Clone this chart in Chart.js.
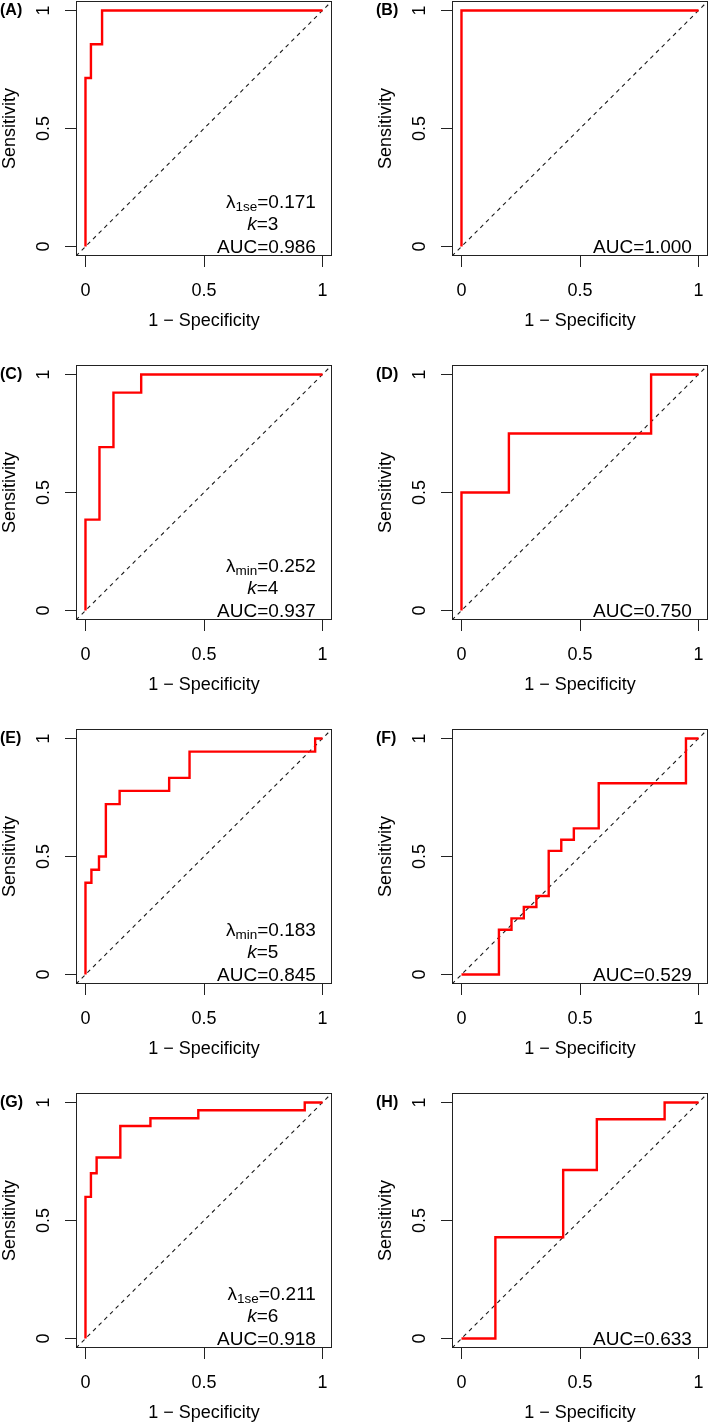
<!DOCTYPE html>
<html>
<head>
<meta charset="utf-8">
<script src="https://cdn.jsdelivr.net/npm/chart.js@4.4.1/dist/chart.umd.min.js"></script>
<style>
  html, body { margin: 0; padding: 0; background: #fff; overflow: hidden; }
  body { width: 709px; height: 1423px; position: relative; }
  canvas { position: absolute; }
</style>
</head>
<body>
<script>
// ---------------- data ----------------
const panelLabels = ['(A)', '(B)', '(C)', '(D)', '(E)', '(F)', '(G)', '(H)'];

const fprA = [0, 0, 0.023, 0.023, 0.07, 0.07, 1];
const tprA = [0, 0.714, 0.714, 0.857, 0.857, 1, 1];

const fprB = [0, 0, 1];
const tprB = [0, 1, 1];

const fprC = [0, 0, 0.059, 0.059, 0.118, 0.118, 0.235, 0.235, 1];
const tprC = [0, 0.385, 0.385, 0.692, 0.692, 0.923, 0.923, 1, 1];

const fprD = [0, 0, 0.2, 0.2, 0.8, 0.8, 1];
const tprD = [0, 0.5, 0.5, 0.75, 0.75, 1, 1];

const fprE = [0, 0, 0.025, 0.025, 0.057, 0.057, 0.086, 0.086, 0.144, 0.144, 0.353, 0.353, 0.439, 0.439, 0.969, 0.969, 1];
const tprE = [0, 0.389, 0.389, 0.444, 0.444, 0.5, 0.5, 0.722, 0.722, 0.778, 0.778, 0.833, 0.833, 0.944, 0.944, 1, 1];

const fprF = [0, 0.158, 0.158, 0.211, 0.211, 0.263, 0.263, 0.316, 0.316, 0.368, 0.368, 0.421, 0.421, 0.474, 0.474, 0.579, 0.579, 0.947, 0.947, 1];
const tprF = [0, 0, 0.19, 0.19, 0.238, 0.238, 0.286, 0.286, 0.333, 0.333, 0.524, 0.524, 0.571, 0.571, 0.619, 0.619, 0.81, 0.81, 1, 1];

const fprG = [0, 0, 0.023, 0.023, 0.047, 0.047, 0.147, 0.147, 0.274, 0.274, 0.476, 0.476, 0.925, 0.925, 1];
const tprG = [0, 0.6, 0.6, 0.7, 0.7, 0.767, 0.767, 0.9, 0.9, 0.933, 0.933, 0.967, 0.967, 1, 1];

const fprH = [0, 0.143, 0.143, 0.429, 0.429, 0.571, 0.571, 0.857, 0.857, 1];
const tprH = [0, 0, 0.429, 0.429, 0.714, 0.714, 0.929, 0.929, 1, 1];

const aucValues = ['0.986', '1.000', '0.937', '0.750', '0.845', '0.529', '0.918', '0.633'];
const lambdaSubs = ['1se', null, 'min', null, 'min', null, '1se', null];
const lambdaValues = ['0.171', null, '0.252', null, '0.183', null, '0.211', null];
const kValues = ['3', null, '4', null, '5', null, '6', null];

const tickValues = [0, 0.5, 1];
const tickLabels = ['0', '0.5', '1'];

const xTitle = '1 \u2212 Specificity';
const yTitle = 'Sensitivity';

// ---------------- drawing ----------------
const FAM = "'Liberation Sans', Arial, Helvetica, sans-serif";
Chart.defaults.font.family = FAM;
Chart.defaults.color = '#000';

const AX_MIN = -0.04, AX_MAX = 1.04;   // R's 4% axis extension
const fprs = [fprA, fprB, fprC, fprD, fprE, fprF, fprG, fprH];
const tprs = [tprA, tprB, tprC, tprD, tprE, tprF, tprG, tprH];

// annotation anchors in data units
const ANN = { right: 0.972, kCenter: 0.748, aucBase: -0.028, kBase: 0.070, lamBase: 0.164 };

const rocPanel = {
  id: 'rocPanel',
  beforeDatasetsDraw(chart) {
    const { ctx, chartArea: a } = chart;
    ctx.save();
    ctx.strokeStyle = '#222';
    ctx.lineWidth = 1;
    ctx.strokeRect(Math.round(a.left) + 0.5, Math.round(a.top) + 0.5,
                   Math.round(a.right - a.left) - 1, Math.round(a.bottom - a.top) - 1);
    ctx.restore();
  },
  afterDraw(chart, args, o) {
    const { ctx } = chart;
    const xs = chart.scales.x, ys = chart.scales.y;
    ctx.save();
    ctx.fillStyle = '#000';
    // panel tag
    ctx.font = 'bold 16px ' + FAM;
    ctx.textAlign = 'left';
    ctx.textBaseline = 'middle';
    ctx.fillText(o.label, ys.left, ys.getPixelForValue(1));

    ctx.textBaseline = 'alphabetic';
    const xr = xs.getPixelForValue(ANN.right);
    ctx.font = '19px ' + FAM;
    ctx.textAlign = 'right';
    ctx.fillText('AUC=' + o.auc, xr, ys.getPixelForValue(ANN.aucBase));

    if (o.k) {
      const yk = ys.getPixelForValue(ANN.kBase);
      ctx.textAlign = 'left';
      ctx.font = 'italic 19px ' + FAM;
      const wk = ctx.measureText('k').width;
      ctx.font = '19px ' + FAM;
      const wr = ctx.measureText('=' + o.k).width;
      const x0 = xs.getPixelForValue(ANN.kCenter) - (wk + wr) / 2;
      ctx.font = 'italic 19px ' + FAM;
      ctx.fillText('k', x0, yk);
      ctx.font = '19px ' + FAM;
      ctx.fillText('=' + o.k, x0 + wk, yk);
    }
    if (o.lamSub) {
      const yl = ys.getPixelForValue(ANN.lamBase);
      ctx.textAlign = 'left';
      ctx.font = '19px ' + FAM;
      const wl = ctx.measureText('\u03bb').width;
      const wv = ctx.measureText('=' + o.lamVal).width;
      ctx.font = '13.5px ' + FAM;
      const ws = ctx.measureText(o.lamSub).width;
      const x0 = xr - (wl + ws + wv);
      ctx.font = '19px ' + FAM;
      ctx.fillText('\u03bb', x0, yl);
      ctx.font = '13.5px ' + FAM;
      ctx.fillText(o.lamSub, x0 + wl, yl + 3);
      ctx.font = '19px ' + FAM;
      ctx.fillText('=' + o.lamVal, x0 + wl + ws, yl);
    }
    ctx.restore();
  }
};

function axisCommon() {
  return {
    type: 'linear',
    min: AX_MIN,
    max: AX_MAX,
    afterBuildTicks: (s) => { s.ticks = tickValues.map(v => ({ value: v })); },
    border: { display: false },
    grid: { drawOnChartArea: false, drawTicks: true, tickLength: 11, color: '#222', tickColor: '#222', lineWidth: 1 },
  };
}

const rowTops = [0, 364, 728, 1092];
const colLefts = [0, 376];
const CW = 333, CH = 332;

panelLabels.forEach((label, i) => {
  const canvas = document.createElement('canvas');
  canvas.width = CW; canvas.height = CH;
  canvas.style.left = colLefts[i % 2] + 'px';
  canvas.style.top = rowTops[Math.floor(i / 2)] + 'px';
  canvas.style.width = CW + 'px';
  canvas.style.height = CH + 'px';
  document.body.appendChild(canvas);

  const roc = fprs[i].map((v, j) => ({ x: v, y: tprs[i][j] }));
  // identity (chance) line spanning the full plot box, as R's abline does
  const diag = [{ x: AX_MIN, y: AX_MIN }, { x: AX_MAX, y: AX_MAX }];

  const xScale = Object.assign(axisCommon(), {
    position: 'bottom',
    afterFit: (s) => { s.height = 76; s.paddingLeft = 0; s.paddingRight = 0; },
    ticks: { font: { size: 18 }, color: '#000', padding: 13, autoSkip: false, maxRotation: 0,
             callback: (v) => tickLabels[tickValues.indexOf(v)] },
    title: { display: true, text: xTitle, color: '#000', font: { size: 18 }, padding: { top: 0, bottom: 0 } }
  });
  const yScale = Object.assign(axisCommon(), {
    position: 'left',
    afterFit: (s) => { s.width = 76; s.paddingTop = 0; s.paddingBottom = 0; },
    ticks: { font: { size: 18 }, color: '#000', padding: 8.5, autoSkip: false,
             minRotation: 90, maxRotation: 90, crossAlign: 'center',
             callback: (v) => tickLabels[tickValues.indexOf(v)] },
    title: { display: true, text: yTitle, color: '#000', font: { size: 18, lineHeight: 1 }, padding: { top: 1.5, bottom: 0 } }
  });

  new Chart(canvas, {
    type: 'scatter',
    data: {
      datasets: [
        { data: roc, showLine: true, borderColor: '#ff0000', borderWidth: 2.4, pointRadius: 0, tension: 0, fill: false },
        { data: diag, showLine: true, borderColor: '#1a1a1a', borderWidth: 1.1, borderDash: [4, 4], pointRadius: 0, fill: false }
      ]
    },
    options: {
      responsive: false,
      animation: false,
      devicePixelRatio: 1,
      events: [],
      layout: { padding: { top: 1, right: 1, bottom: 0, left: 0 } },
      plugins: {
        legend: { display: false },
        tooltip: { enabled: false },
        rocPanel: { label: label, auc: aucValues[i], lamSub: lambdaSubs[i], lamVal: lambdaValues[i], k: kValues[i] }
      },
      scales: { x: xScale, y: yScale }
    },
    plugins: [rocPanel]
  });
});
</script>
</body>
</html>
